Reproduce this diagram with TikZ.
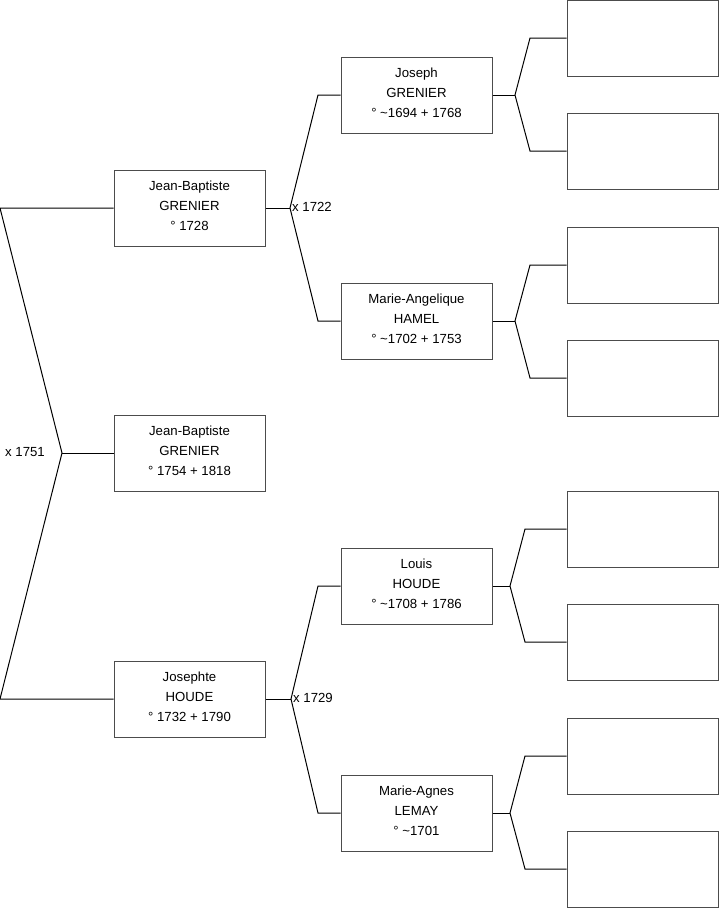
\documentclass[tikz,border=0pt]{standalone}
\usepackage{fontspec}
\setmainfont{Liberation Sans}
\begin{document}
\begin{tikzpicture}[x=1pt,y=-1pt,
  person/.style={draw=black!70,line width=1pt,minimum width=151pt,minimum height=76pt,align=center,inner sep=0pt,font=\fontsize{13.2}{20}\selectfont},
  link/.style={draw=black,line width=1pt},
  lbl/.style={font=\fontsize{13.2}{15}\selectfont,inner sep=1pt}]
\useasboundingbox (0,0) rectangle (719,908);
% generation 1
\node[person] (jb1) at (189.5,208) {Jean-Baptiste\\GRENIER\\° 1728\\[-16pt]};
\node[person] (jb2) at (189.5,453) {Jean-Baptiste\\GRENIER\\° 1754 + 1818\\[-16pt]};
\node[person] (jo) at (189.5,699) {Josephte\\HOUDE\\° 1732 + 1790\\[-16pt]};
% generation 2
\node[person] (jg) at (416.5,95) {Joseph\\GRENIER\\° \textasciitilde1694 + 1768\\[-16pt]};
\node[person] (mah) at (416.5,321) {Marie-Angelique\\HAMEL\\° \textasciitilde1702 + 1753\\[-16pt]};
\node[person] (lh) at (416.5,586) {Louis\\HOUDE\\° \textasciitilde1708 + 1786\\[-16pt]};
\node[person] (mal) at (416.5,813) {Marie-Agnes\\LEMAY\\° \textasciitilde1701\\[-16pt]};
% generation 3
\foreach \n/\y in {a/38,b/151,c/265,d/378,e/529,f/642,g/756,h/869}
  \node[person] (g\n) at (642.5,\y) {};
% connectors gen0
\coordinate (v0) at (62,453);
\coordinate (v0a) at (0,208);
\coordinate (v0b) at (0,699);
\draw[link] (jb1.west) -- (v0a) -- (v0) -- (v0b) -- (jo.west);
\draw[link] (v0) -- (jb2.west);
\node[lbl,anchor=east] (m0) at (46,452) {x 1751};
% gen1 -> gen2
\coordinate (v1) at (290,208);
\coordinate (v1a) at (318,95);
\coordinate (v1b) at (318,321);
\draw[link] (jb1.east) -- (v1);
\draw[link] (jg.west) -- (v1a) -- (v1) -- (v1b) -- (mah.west);
\node[lbl,anchor=west] (m1) at (291,207) {x 1722};
\coordinate (v2) at (291,699);
\coordinate (v2a) at (318,586);
\coordinate (v2b) at (318,813);
\draw[link] (jo.east) -- (v2);
\draw[link] (lh.west) -- (v2a) -- (v2) -- (v2b) -- (mal.west);
\node[lbl,anchor=west] (m2) at (292,698) {x 1729};
% gen2 -> gen3
\coordinate (v3) at (515,95);
\coordinate (v3a) at (530,38);
\coordinate (v3b) at (530,151);
\draw[link] (jg.east) -- (v3);
\draw[link] (ga.west) -- (v3a) -- (v3) -- (v3b) -- (gb.west);
\coordinate (v4) at (515,321);
\coordinate (v4a) at (530,265);
\coordinate (v4b) at (530,378);
\draw[link] (mah.east) -- (v4);
\draw[link] (gc.west) -- (v4a) -- (v4) -- (v4b) -- (gd.west);
\coordinate (v5) at (510,586);
\coordinate (v5a) at (525,529);
\coordinate (v5b) at (525,642);
\draw[link] (lh.east) -- (v5);
\draw[link] (ge.west) -- (v5a) -- (v5) -- (v5b) -- (gf.west);
\coordinate (v6) at (510,813);
\coordinate (v6a) at (525,756);
\coordinate (v6b) at (525,869);
\draw[link] (mal.east) -- (v6);
\draw[link] (gg.west) -- (v6a) -- (v6) -- (v6b) -- (gh.west);
\end{tikzpicture}
\end{document}
